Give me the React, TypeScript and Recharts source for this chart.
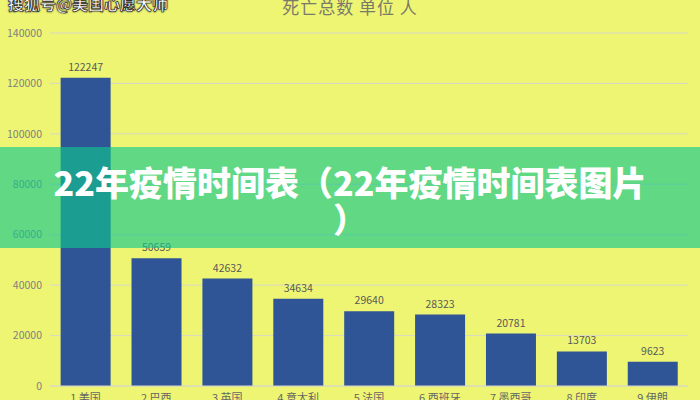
import React from 'react';
import { BarChart, Bar, XAxis, YAxis, CartesianGrid, LabelList } from 'recharts';

const countries = ['1 美国', '2 巴西', '3 英国', '4 意大利', '5 法国', '6 西班牙', '7 墨西哥', '8 印度', '9 伊朗'];
const deaths = [122247, 50659, 42632, 34634, 29640, 28323, 20781, 13703, 9623];
const yTicks = [0, 20000, 40000, 60000, 80000, 100000, 120000, 140000];

const data = countries.map((name, i) => ({ name, deaths: deaths[i] }));

const FONT = '"Noto Sans CJK SC", "Noto Sans", sans-serif';

const App = () => {
  return (
    <div style={{ position: 'fixed', top: 0, left: 0, width: 700, height: 400, background: '#eef573', overflow: 'hidden', fontFamily: FONT }}>
      <BarChart width={700} height={400} data={data} margin={{ top: 33, right: 12, left: 0, bottom: 0 }} barCategoryGap="15%">
        <CartesianGrid vertical={false} stroke="#d8d8c4" />
        <XAxis
          dataKey="name"
          height={14}
          tickLine={false}
          axisLine={{ stroke: '#d8d8c4' }}
          tick={{ fontSize: 11, fill: '#666', fontFamily: FONT }}
          interval={0}
        />
        <YAxis
          width={50}
          domain={[0, 140000]}
          ticks={yTicks}
          axisLine={false}
          tickLine={false}
          tick={{ fontSize: 10.5, fill: '#808080', fontFamily: FONT }}
        />
        <Bar dataKey="deaths" fill="#2f5597" isAnimationActive={false}>
          <LabelList dataKey="deaths" position="top" offset={7} style={{ fontSize: 10.5, fill: '#595959', fontFamily: FONT }} />
        </Bar>
      </BarChart>
      <div style={{ position: 'absolute', top: -6, left: 0, width: 700, textAlign: 'center', fontSize: 17, color: '#7a7a6a', letterSpacing: 1 }}>
        死亡总数 单位 人
      </div>
      <div style={{ position: 'absolute', top: -9, left: 8, fontSize: 16, color: '#fff', fontWeight: 'bold', WebkitTextStroke: '0.6px #222', textShadow: '0 0 2px #000' }}>
        搜狐号@美国心愿大师
      </div>
      <div
        style={{
          position: 'absolute',
          top: 147,
          left: 0,
          width: 700,
          height: 101,
          background: 'rgba(16, 199, 143, 0.64)',
          color: '#fff',
          fontWeight: 900,
          fontSize: 34,
          lineHeight: '37px',
          textAlign: 'center',
          paddingTop: 16,
          boxSizing: 'border-box',
        }}
      >
        22年疫情时间表（22年疫情时间表图片
        <br />）
      </div>
    </div>
  );
};

export default App;
